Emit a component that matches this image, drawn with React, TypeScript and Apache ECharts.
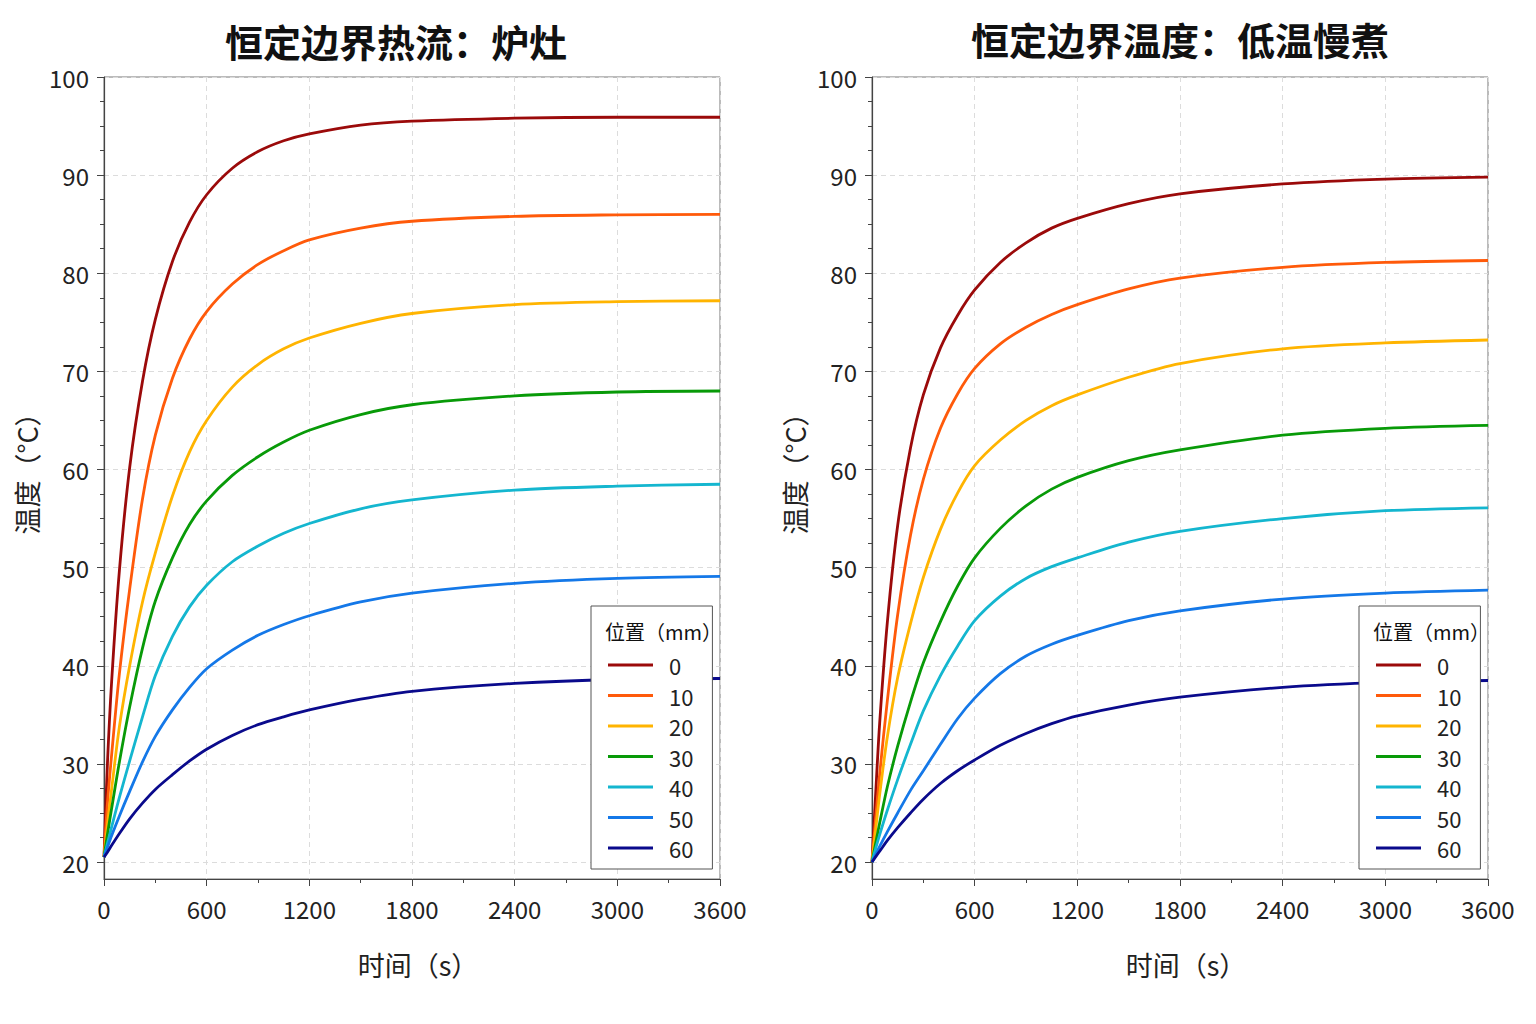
import React, { useEffect, useRef } from 'react';
import * as echarts from 'echarts';

const FONT = '"Noto Sans CJK SC", "Noto Sans", sans-serif';

// sample times (s)
const TIMES = [0, 20, 45, 90, 150, 225, 300, 400, 500, 600, 750, 900, 1050, 1200, 1500, 1800, 2400, 3000, 3600];

const POSITIONS = ['0', '10', '20', '30', '40', '50', '60'];
const COLORS = ['#9b0a0a', '#ff5a0a', '#ffb400', '#089a08', '#14b6cf', '#1478e8', '#0a0a8c'];

// constant heat flux: stove
const FLUX_0 = [20.5, 30, 38.5, 49.7, 60.2, 69, 75.3, 81.2, 85.2, 88.0, 90.7, 92.4, 93.5, 94.2, 95.1, 95.5, 95.8, 95.9, 95.9];
const FLUX_10 = [20.5, 26, 31, 39.2, 47.8, 57, 63.5, 69.3, 73.3, 76.1, 78.9, 80.9, 82.3, 83.4, 84.6, 85.3, 85.8, 85.95, 86.0];
const FLUX_20 = [20.5, 23.8, 27.5, 33.8, 40, 46.5, 51.5, 57.3, 61.8, 65, 68.4, 70.7, 72.3, 73.4, 74.9, 75.9, 76.8, 77.1, 77.2];
const FLUX_30 = [20.5, 22.8, 25.5, 30.2, 35.8, 41.8, 46.6, 51, 54.4, 56.8, 59.4, 61.3, 62.8, 64.0, 65.6, 66.6, 67.5, 67.9, 68.0];
const FLUX_40 = [20.5, 21.9, 23.6, 26.6, 30.3, 34.8, 39, 43, 46, 48.2, 50.6, 52.2, 53.5, 54.5, 56.0, 56.9, 57.9, 58.3, 58.5];
const FLUX_50 = [20.5, 21.5, 22.7, 24.7, 27.2, 30.2, 32.8, 35.5, 37.8, 39.7, 41.6, 43.1, 44.2, 45.1, 46.5, 47.4, 48.4, 48.9, 49.1];
const FLUX_60 = [20.5, 21.0, 21.7, 22.9, 24.4, 26.0, 27.4, 28.9, 30.3, 31.5, 32.9, 34.0, 34.8, 35.5, 36.6, 37.4, 38.2, 38.6, 38.7];

// constant boundary temperature: sous vide
const TEMP_0 = [20, 26.5, 34.2, 44.5, 54.3, 62.2, 67.6, 72.4, 75.7, 78.3, 81.1, 83.1, 84.6, 85.6, 87.1, 88.1, 89.1, 89.6, 89.8];
const TEMP_10 = [20, 24.2, 29, 36.5, 45.2, 53.3, 59, 64.2, 67.7, 70.3, 72.8, 74.5, 75.8, 76.8, 78.4, 79.5, 80.6, 81.1, 81.3];
const TEMP_20 = [20, 23.1, 26.9, 32.8, 38.8, 44.3, 49.0, 53.9, 57.6, 60.4, 63.0, 65.0, 66.5, 67.6, 69.4, 70.8, 72.3, 72.9, 73.2];
const TEMP_30 = [20, 21.8, 24, 27.7, 31.8, 36.3, 40.3, 44.5, 48.1, 51.0, 54.0, 56.3, 58.0, 59.2, 60.9, 62.0, 63.5, 64.2, 64.5];
const TEMP_40 = [20, 21.3, 22.8, 25.3, 28.4, 32, 35.4, 39.0, 42.0, 44.6, 47.1, 48.9, 50.1, 51.0, 52.6, 53.7, 55.0, 55.8, 56.1];
const TEMP_50 = [20, 20.7, 21.6, 23.1, 25, 27.3, 29.3, 32, 34.6, 36.7, 39.2, 41, 42.2, 43.1, 44.6, 45.6, 46.8, 47.4, 47.7];
const TEMP_60 = [20, 20.5, 21.1, 22.2, 23.5, 25, 26.4, 28, 29.3, 30.4, 31.9, 33.1, 34.1, 34.9, 36.0, 36.8, 37.8, 38.3, 38.5];

const FLUX = [FLUX_0, FLUX_10, FLUX_20, FLUX_30, FLUX_40, FLUX_50, FLUX_60];
const TEMP = [TEMP_0, TEMP_10, TEMP_20, TEMP_30, TEMP_40, TEMP_50, TEMP_60];

const Y_MAJOR = [20, 30, 40, 50, 60, 70, 80, 90, 100];
const Y_MINOR = [22.5, 25, 27.5, 32.5, 35, 37.5, 42.5, 45, 47.5, 52.5, 55, 57.5, 62.5, 65, 67.5,
  72.5, 75, 77.5, 82.5, 85, 87.5, 92.5, 95, 97.5];

const TITLES = ['恒定边界热流：炉灶', '恒定边界温度：低温慢煮'];
const X_NAME = '时间（s）';
const Y_NAME = '温度（°C）';
const LEGEND_TITLE = '位置（mm）';

const Y_MIN = 18.27;
const Y_MAX = 100;

const GRIDS = [
  { left: 104, top: 77, width: 616, height: 802 },
  { left: 872, top: 77, width: 616, height: 802 },
];

const App = () => {
  const chartRef = useRef<HTMLDivElement>(null);

  useEffect(() => {
    let chart: echarts.ECharts | null = null;
    if (chartRef.current) {
      chart = echarts.init(chartRef.current, null, { renderer: 'svg' });

      const axisText = { color: '#222', fontSize: 24, fontFamily: FONT };

      const xAxes = GRIDS.map((_, i) => ({
        type: 'value',
        gridIndex: i,
        min: 0,
        max: 3600,
        interval: 600,
        name: X_NAME,
        nameLocation: 'middle',
        nameGap: 72,
        nameTextStyle: { ...axisText, fontSize: 27, padding: [0, 0, 0, 12] },
        axisLine: { show: true, lineStyle: { color: '#444', width: 1.2 } },
        axisTick: { show: true, length: 7, lineStyle: { color: '#444' } },
        minorTick: { show: true, splitNumber: 2, length: 4, lineStyle: { color: '#444' } },
        axisLabel: { ...axisText, margin: 17, formatter: (v: number) => String(v) },
        splitLine: { show: true, lineStyle: { color: '#dcdcdc', type: [5, 4], width: 1 } },
      }));

      const yMain = GRIDS.map((_, i) => ({
        type: 'value',
        gridIndex: i,
        position: 'left',
        min: Y_MIN,
        max: Y_MAX,
        name: Y_NAME,
        nameLocation: 'middle',
        nameGap: 64,
        nameRotate: 90,
        nameTextStyle: { ...axisText, fontSize: 27, padding: [0, 0, 0, 22] },
        axisLine: { show: true, lineStyle: { color: '#444', width: 1.2 } },
        axisTick: { show: true, length: 7, customValues: Y_MAJOR, lineStyle: { color: '#444' } },
        axisLabel: { ...axisText, margin: 15, customValues: Y_MAJOR },
        splitLine: { show: true, lineStyle: { color: '#dcdcdc', type: [5, 4], width: 1 } },
      }));

      const yMinor = GRIDS.map((_, i) => ({
        type: 'value',
        gridIndex: i,
        position: 'left',
        min: Y_MIN,
        max: Y_MAX,
        axisLine: { show: false },
        axisTick: { show: true, length: 4, customValues: Y_MINOR, lineStyle: { color: '#444' } },
        axisLabel: { show: false },
        splitLine: { show: false },
      }));

      const series: any[] = [];
      [FLUX, TEMP].forEach((group, gi) => {
        group.forEach((vals, si) => {
          series.push({
            name: POSITIONS[si],
            type: 'line',
            xAxisIndex: gi,
            yAxisIndex: gi,
            data: TIMES.map((t, k) => [t, vals[k]]),
            smooth: 0.3,
            showSymbol: false,
            symbol: 'none',
            lineStyle: { color: COLORS[si], width: 2.8 },
            itemStyle: { color: COLORS[si] },
            z: 3,
          });
        });
      });

      const legends = GRIDS.map((g) => ({
        data: POSITIONS,
        orient: 'vertical',
        left: g.left + 487,
        top: 606,
        icon: 'rect',
        itemWidth: 45,
        itemHeight: 3,
        itemGap: 8.5,
        padding: [48, 19, 10, 17],
        backgroundColor: '#fff',
        borderColor: '#555',
        borderWidth: 1,
        borderRadius: 0,
        textStyle: { color: '#222', fontSize: 22, fontFamily: FONT, lineHeight: 22, padding: [0, 0, 0, 11] },
        selectedMode: false,
        z: 10,
      }));

      const textEl = (x: number, y: number, text: string, font: string, align = 'center') => ({
        type: 'text',
        x,
        y,
        z: 100,
        style: {
          text,
          fill: '#111',
          font,
          align,
          textAlign: align,
          verticalAlign: 'middle',
          textVerticalAlign: 'middle',
        },
      });

      const option: any = {
        animation: false,
        backgroundColor: '#fff',
        grid: GRIDS.map((g) => ({
          ...g,
          show: true,
          borderColor: '#777',
          borderWidth: 1,
          backgroundColor: 'transparent',
        })),
        xAxis: xAxes,
        yAxis: [...yMain, ...yMinor],
        legend: legends,
        series,
        graphic: [
          textEl(396, 40, TITLES[0], `bold 38px ${FONT}`),
          textEl(1180, 38, TITLES[1], `bold 38px ${FONT}`),
          textEl(605, 631, LEGEND_TITLE, `20px ${FONT}`, 'left'),
          textEl(1373, 631, LEGEND_TITLE, `20px ${FONT}`, 'left'),
        ],
      };
      chart.setOption(option);
    }

    const handleResize = () => chart?.resize();
    window.addEventListener('resize', handleResize);
    return () => {
      chart?.dispose();
      window.removeEventListener('resize', handleResize);
    };
  }, []);

  return (
    <div
      ref={chartRef}
      style={{ position: 'fixed', left: 0, top: 0, width: '1536px', height: '1024px', background: '#fff' }}
    />
  );
};

export default App;
